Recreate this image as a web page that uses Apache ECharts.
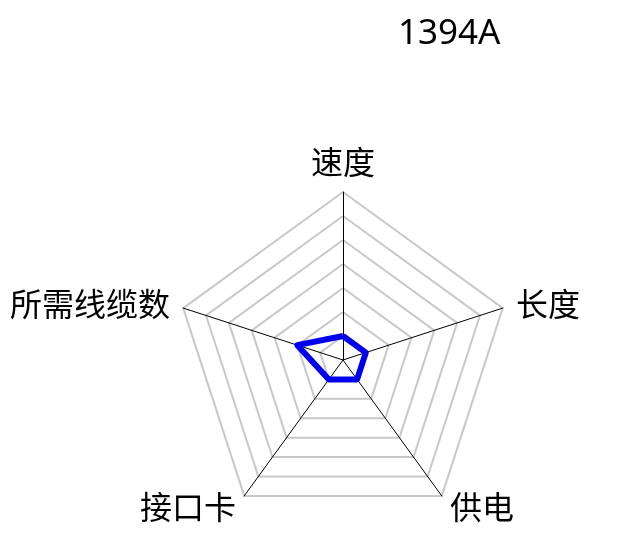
<!DOCTYPE html>
<html><head><meta charset="utf-8">
<script src="https://cdn.jsdelivr.net/npm/echarts@6/dist/echarts.min.js"></script>
<style>html,body{margin:0;padding:0;background:#fff}#c{width:627px;height:533px}</style>
</head><body><div id="c"></div>
<script>
var titleText = '1394A';
// ECharts lays indicators out counter-clockwise starting at the top
var indicatorNames = ['速度', '所需线缆数', '接口卡', '供电', '长度'];
var indicatorMax = [7, 7, 7, 7, 7];
var seriesValues = [1, 2, 1, 1, 1];

var chart = echarts.init(document.getElementById('c'));
chart.setOption({
  animation: false,
  backgroundColor: '#fff',
  title: {
    text: titleText,
    left: 393, top: 12,
    textStyle: {fontFamily: 'Noto Sans', fontSize: 35, fontWeight: 'normal', color: '#000'}
  },
  radar: {
    center: [343, 360],
    radius: 168,
    startAngle: 90,
    splitNumber: 7,
    shape: 'polygon',
    indicator: indicatorNames.map(function (n, i) { return {name: n, max: indicatorMax[i]}; }),
    axisName: {color: '#000', fontSize: 32, fontFamily: 'Noto Sans CJK SC'},
    nameGap: 14,
    axisLine: {lineStyle: {color: '#000', width: 1}},
    splitLine: {lineStyle: {color: '#c8c8c8', width: 2}},
    splitArea: {show: false}
  },
  series: [{
    type: 'radar',
    symbol: 'none',
    lineStyle: {color: '#0000ee', width: 6},
    data: [{value: seriesValues}]
  }]
});
</script></body></html>
